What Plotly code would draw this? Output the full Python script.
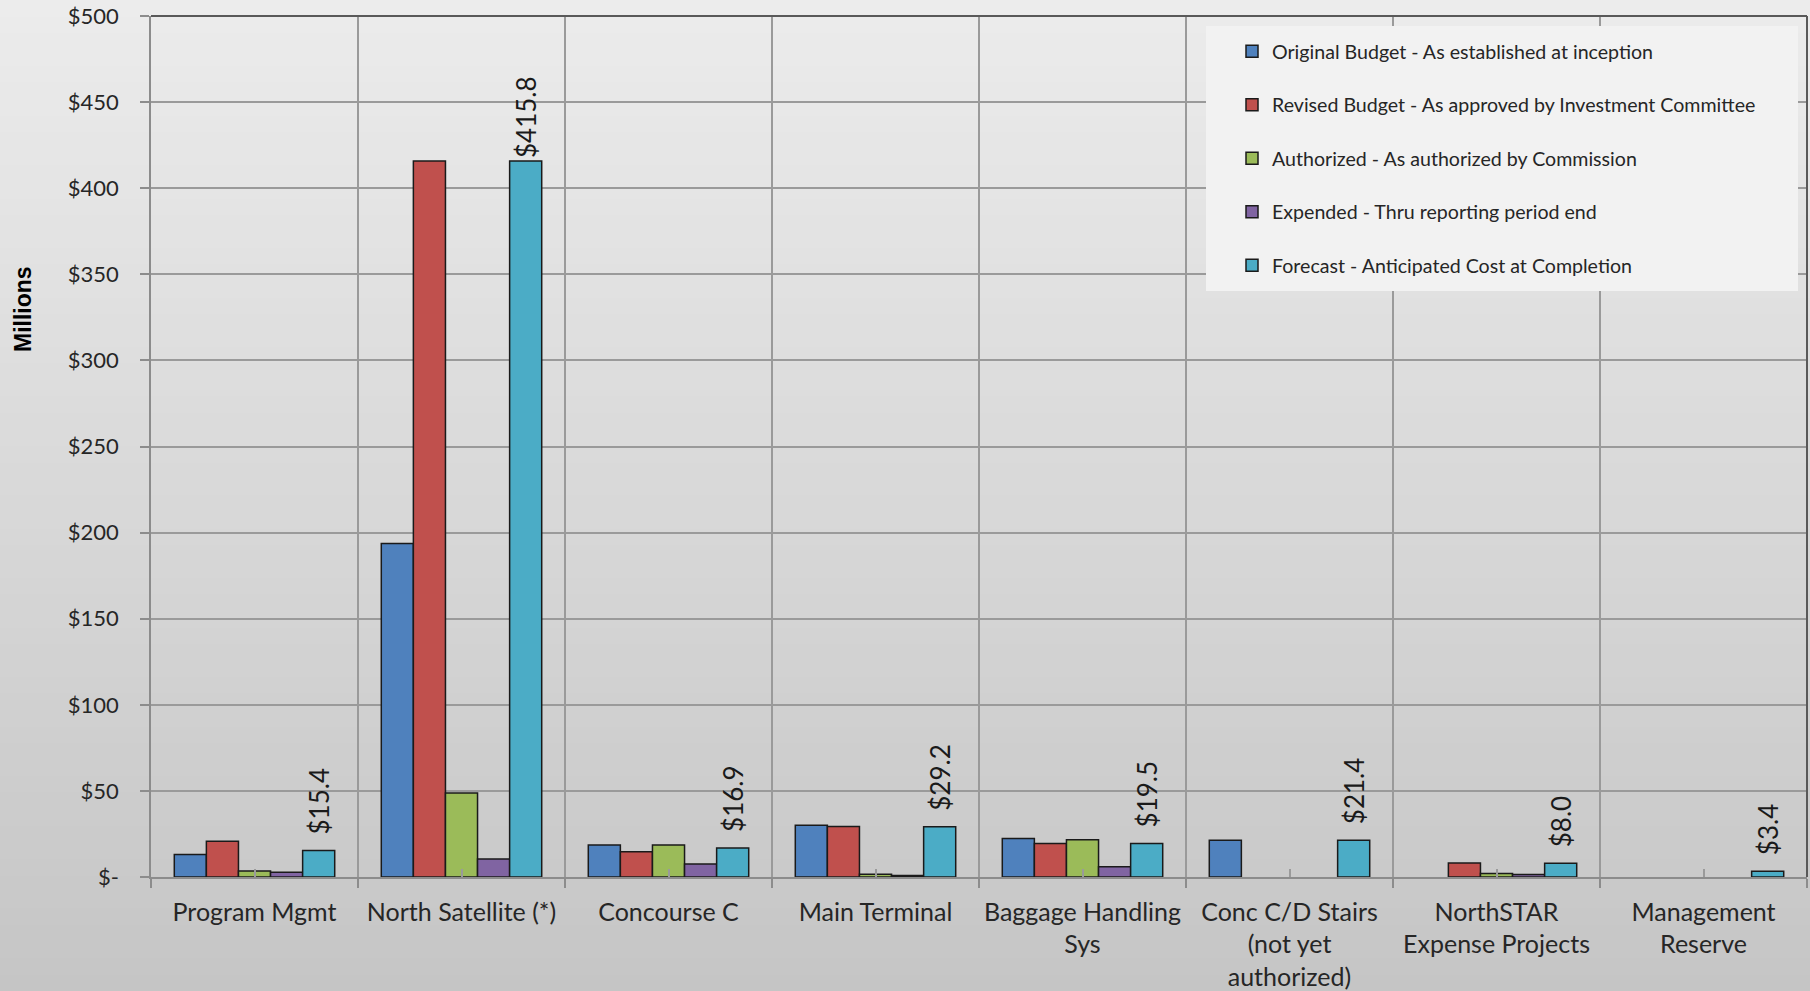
import plotly.graph_objects as go

# ---------------- data ----------------
categories = [
    "Program Mgmt",
    "North Satellite (*)",
    "Concourse C",
    "Main Terminal",
    "Baggage Handling<br>Sys",
    "Conc C/D Stairs<br>(not yet<br>authorized)",
    "NorthSTAR<br>Expense Projects",
    "Management<br>Reserve",
]

series_names = [
    "Original Budget - As established at inception",
    "Revised Budget - As approved by Investment Committee",
    "Authorized - As authorized by Commission",
    "Expended - Thru reporting period end",
    "Forecast - Anticipated Cost at Completion",
]

original = [13.0, 193.6, 18.6, 30.0, 22.4, 21.4, None, None]
revised = [20.8, 415.8, 14.7, 29.3, 19.4, None, 8.1, None]
authorized = [3.5, 48.8, 18.6, 1.6, 21.6, None, 2.1, None]
expended = [2.7, 10.4, 7.6, 0.8, 6.0, None, 1.4, None]
forecast = [15.4, 415.8, 16.9, 29.2, 19.5, 21.4, 8.0, 3.4]

y_tickvals = [0, 50, 100, 150, 200, 250, 300, 350, 400, 450, 500]
y_ticktext = ["$-", "$50", "$100", "$150", "$200", "$250", "$300", "$350", "$400", "$450", "$500"]

# ---------------- style ----------------
colors = ["#4F81BD", "#C0504D", "#9BBB59", "#8064A2", "#4BACC6"]
W, H = 1810, 991
ML, MR, MT, MB = 151, 3, 16, 114
PW, PH = W - ML - MR, H - MT - MB
FONT = "Lato"
TXT = "#262626"


def px2paper_x(px):
    return (px - ML) / PW


def px2paper_y(py):
    return (H - MB - py) / PH


fig = go.Figure()

label_templates = [("$%{y:.1f}" if v > 300 else "\u2002$%{y:.1f}") for v in forecast]

all_series = [original, revised, authorized, expended, forecast]
for i, (name, vals) in enumerate(zip(series_names, all_series)):
    kw = {}
    if i == 4:
        kw = dict(
            texttemplate=label_templates,
            textposition="outside",
            textangle=-90,
            constraintext="none",
            cliponaxis=False,
            textfont=dict(family=FONT, size=26, color="#1a1a1a"),
        )
    fig.add_trace(
        go.Bar(
            x=categories,
            y=vals,
            name=name,
            legendgroup=name,
            marker=dict(color=colors[i], line=dict(color="#1a1a1a", width=1.5)),
            **kw,
        )
    )

# dummy empty trace for the overlaid centre-tick axis
fig.add_trace(go.Scatter(x=[], y=[], xaxis="x2", yaxis="y", showlegend=False, hoverinfo="skip"))

# gradient background (stripes)
shapes = []
n = 60
top_c, bot_c = 236, 197
for k in range(n):
    y0p = k * H / n
    y1p = (k + 1) * H / n + 1
    c = round(top_c + (bot_c - top_c) * (k + 0.5) / n)
    shapes.append(
        dict(
            type="rect", xref="paper", yref="paper", layer="below",
            x0=px2paper_x(0), x1=px2paper_x(W),
            y0=px2paper_y(y1p), y1=px2paper_y(y0p),
            line=dict(width=0), fillcolor=f"rgb({c},{c},{c})",
        )
    )

# legend background box
shapes.append(
    dict(
        type="rect", xref="paper", yref="paper", layer="above",
        x0=px2paper_x(1206), x1=px2paper_x(1798),
        y0=px2paper_y(291), y1=px2paper_y(26),
        line=dict(width=0), fillcolor="#f2f2f2",
    )
)
# darker top / right plot border
shapes.append(dict(type="line", xref="paper", yref="paper", layer="above",
                   x0=0, x1=1, y0=1, y1=1, line=dict(color="#595959", width=2)))
shapes.append(dict(type="line", xref="paper", yref="paper", layer="above",
                   x0=1, x1=1, y0=0, y1=1, line=dict(color="#595959", width=2)))

fig.update_layout(
    width=W,
    height=H,
    margin=dict(l=ML, r=MR, t=MT, b=MB, autoexpand=False),
    paper_bgcolor="#d9d9d9",
    plot_bgcolor="rgba(0,0,0,0)",
    barmode="group",
    bargap=0.225,
    bargroupgap=0,
    shapes=shapes,
    font=dict(family=FONT, size=20, color=TXT),
    showlegend=True,
    legend=dict(
        x=px2paper_x(1232),
        y=px2paper_y(32),
        xanchor="left",
        yanchor="top",
        bgcolor="rgba(0,0,0,0)",
        borderwidth=0,
        tracegroupgap=25,
        font=dict(family=FONT, size=19.6, color=TXT),
    ),
    xaxis=dict(
        type="category",
        automargin=False,
        tickson="boundaries",
        ticks="outside",
        ticklen=9,
        tickwidth=1.5,
        tickcolor="#8c8c8c",
        showgrid=True,
        gridcolor="#9a9a9a",
        gridwidth=1.5,
        showline=True,
        linecolor="#8c8c8c",
        linewidth=1.5,
        tickfont=dict(family=FONT, size=25, color=TXT),
        ticklabelstandoff=12,
    ),
    xaxis2=dict(
        overlaying="x",
        anchor="y",
        automargin=False,
        range=[-0.5, len(categories) - 0.5],
        tickvals=list(range(len(categories))),
        ticks="inside",
        ticklen=8,
        tickwidth=1.5,
        tickcolor="#9a9a9a",
        showticklabels=False,
        showgrid=False,
        showline=False,
        zeroline=False,
    ),
    yaxis=dict(
        range=[0, 500],
        automargin=False,
        tickvals=y_tickvals,
        ticktext=y_ticktext,
        ticks="outside",
        ticklen=9,
        tickwidth=1.5,
        tickcolor="#8c8c8c",
        showgrid=True,
        gridcolor="#9a9a9a",
        gridwidth=1.5,
        showline=True,
        linecolor="#8c8c8c",
        linewidth=1.5,
        zeroline=False,
        tickfont=dict(family=FONT, size=22, color=TXT),
        ticklabelstandoff=17,
    ),
    annotations=[
        dict(
            text="<b>Millions</b>",
            xref="paper", yref="paper",
            x=px2paper_x(23), y=px2paper_y(309),
            xanchor="center", yanchor="middle",
            textangle=-90, showarrow=False,
            font=dict(family="Liberation Sans", size=23, color="#000000"),
        )
    ],
)

fig.write_html(
    "out.html",
    config={"displayModeBar": False},
    post_script=(
        "document.documentElement.style.margin='0px';"
        "document.body.style.margin='0px';"
        "document.body.style.padding='0px';"
        "document.body.style.overflow='hidden';"
        "document.body.style.background='#ececec';"
    ),
)
